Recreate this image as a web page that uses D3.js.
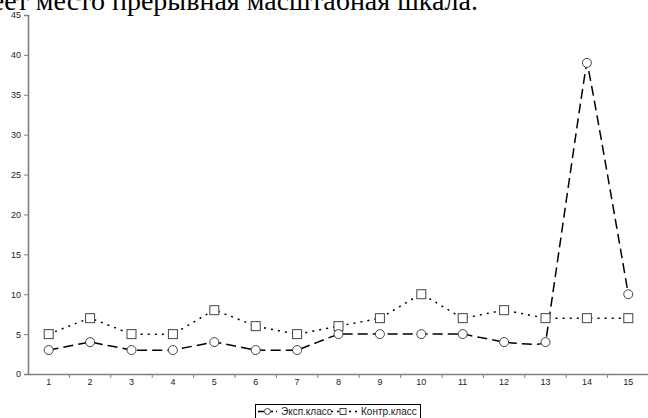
<!DOCTYPE html>
<html><head><meta charset="utf-8">
<script src="https://cdn.jsdelivr.net/npm/d3@7"></script>
<style>html,body{margin:0;padding:0;background:#fff;overflow:hidden}</style>
</head><body>
<svg id="c" width="648" height="418"></svg>
<script>
const categories = ["1","2","3","4","5","6","7","8","9","10","11","12","13","14","15"];
const expValues = [3,4,3,3,4,3,3,5,5,5,5,4,4,39,10];
const ctrlValues = [5,7,5,5,8,6,5,6,7,10,7,8,7,7,7];
const yTicks = [0,5,10,15,20,25,30,35,40,45];
const seriesNames = ["Эксп.класс", "Контр.класс"];
const headingText = "имеет место прерывная масштабная шкала.";

(function(){
const svg = d3.select("#c");
const pl = 28, pr = 649, pt = 15, pb = 374;

svg.append("text").attr("x", 478).attr("y", 10).attr("text-anchor","end")
  .attr("font-family","'Liberation Serif','Times New Roman',serif").attr("font-size",28)
  .attr("fill","#000").text(headingText);

const x = d3.scaleBand().domain(categories).range([pl, pr]);
const y = d3.scaleLinear().domain([0,45]).range([pb, pt]);
const cx = d => x(d) + x.bandwidth()/2;

const yAxis = d3.axisLeft(y).tickValues(yTicks).tickSize(4).tickPadding(3);
const gy = svg.append("g").attr("transform",`translate(${pl},0)`).call(yAxis);
const xAxis = d3.axisBottom(x).tickSize(0).tickPadding(5);
const gx = svg.append("g").attr("transform",`translate(0,${pb})`).call(xAxis);
svg.append("g").selectAll("line").data(categories.slice(1)).join("line")
  .attr("x1", d => x(d)).attr("x2", d => x(d)).attr("y1", pb).attr("y2", pb+4)
  .attr("stroke","#808080").attr("stroke-width",1);
[gx, gy].forEach(g => {
  g.select(".domain").attr("stroke","#808080").attr("stroke-width",1.6);
  g.selectAll(".tick line").attr("stroke","#808080");
  g.selectAll("text").attr("font-family","Arial, 'Liberation Sans', sans-serif").attr("font-size",9).attr("fill","#222");
});

const curve = d3.curveCardinal.tension(0.9);
const lineGen = d3.line().x((d,i) => cx(categories[i])).y(d => y(d)).curve(curve);

svg.append("path").datum(ctrlValues).attr("d", lineGen).attr("fill","none")
  .attr("stroke","#000").attr("stroke-width",1.5).attr("stroke-dasharray","2,5");
svg.append("path").datum(expValues).attr("d", lineGen).attr("fill","none")
  .attr("stroke","#000").attr("stroke-width",1.5).attr("stroke-dasharray","10,5");

svg.append("g").selectAll("rect").data(ctrlValues).join("rect")
  .attr("x",(d,i)=>cx(categories[i])-4.5).attr("y",d=>y(d)-4.5).attr("width",9).attr("height",9)
  .attr("fill","#fff").attr("stroke","#444").attr("stroke-width",1);
svg.append("g").selectAll("circle").data(expValues).join("circle")
  .attr("cx",(d,i)=>cx(categories[i])).attr("cy",d=>y(d)).attr("r",4.5)
  .attr("fill","#fff").attr("stroke","#444").attr("stroke-width",1);

const lg = svg.append("g");
lg.append("rect").attr("x",255.5).attr("y",404.5).attr("width",165).attr("height",20)
  .attr("fill","#fff").attr("stroke","#000").attr("stroke-width",1);
const ly = 411.5;
const ff = "Arial, 'Liberation Sans', sans-serif";
lg.append("line").attr("x1",258).attr("x2",277).attr("y1",ly).attr("y2",ly).attr("stroke","#000").attr("stroke-width",1.5).attr("stroke-dasharray","6,3");
lg.append("circle").attr("cx",267.5).attr("cy",ly).attr("r",3).attr("fill","#fff").attr("stroke","#444");
lg.append("text").attr("x",281).attr("y",ly+3.5).attr("font-family",ff).attr("font-size",10).attr("fill","#222").text(seriesNames[0]);
lg.append("line").attr("x1",331).attr("x2",357).attr("y1",ly).attr("y2",ly).attr("stroke","#000").attr("stroke-width",1.5).attr("stroke-dasharray","2,4");
lg.append("rect").attr("x",340).attr("y",ly-3).attr("width",6).attr("height",6).attr("fill","#fff").attr("stroke","#444");
lg.append("text").attr("x",361).attr("y",ly+3.5).attr("font-family",ff).attr("font-size",10).attr("fill","#222").text(seriesNames[1]);
})();
</script>
</body></html>
